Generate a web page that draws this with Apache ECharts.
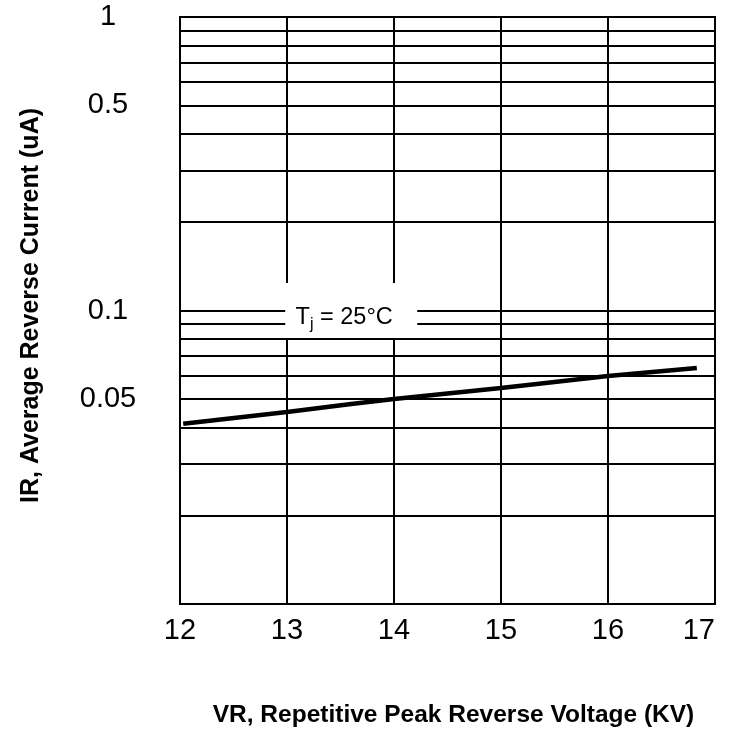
<!DOCTYPE html>
<html>
<head>
<meta charset="utf-8">
<script src="https://cdn.jsdelivr.net/npm/echarts@6/dist/echarts.min.js"></script>
<style>html,body{margin:0;padding:0;background:#fff;}#c{width:733px;height:731px;}</style>
</head>
<body>
<div id="c"></div>
<script>
// Data
const voltageKV = [12.03, 13, 13.6, 14, 15, 16, 16.83];
const currentUA = [0.0411, 0.0451, 0.048, 0.0499, 0.0544, 0.0598, 0.0637];
const yTickLabels = [1, 0.5, 0.1, 0.05];
const yGridValues = [0.9, 0.8, 0.7, 0.6, 0.5, 0.4, 0.3, 0.2, 0.1, 0.09, 0.08, 0.07, 0.06, 0.05, 0.04, 0.03, 0.02];
const xTicks = [12, 13, 14, 15, 16, 17];
const annotText = 'Tj = 25°C';
const annotAt = [13.6, 0.1];

const FONT = 'Liberation Sans, Arial, sans-serif';
const chart = echarts.init(document.getElementById('c'), null, {renderer: 'canvas'});
chart.setOption({
  animation: false,
  backgroundColor: '#fff',
  grid: {left: 180, right: 18, top: 17, bottom: 127, show: true, borderColor: '#000', borderWidth: 2,
    backgroundColor: 'transparent', containLabel: false, outerBoundsMode: 'none'},
  xAxis: {
    type: 'value', min: xTicks[0], max: xTicks[xTicks.length - 1], interval: 1,
    name: 'VR, Repetitive Peak Reverse Voltage (KV)', nameLocation: 'middle', nameGap: 99,
    nameTextStyle: {fontFamily: FONT, fontSize: 24.5, fontWeight: 'bold', color: '#000', padding: [0, 0, 0, 12]},
    axisLine: {show: false}, axisTick: {show: false},
    axisLabel: {fontFamily: FONT, fontSize: 29, color: '#000', margin: 12, alignMaxLabel: 'right',
      formatter: v => String(v)},
    splitLine: {show: true, lineStyle: {color: '#000', width: 2}}
  },
  yAxis: {
    type: 'log', logBase: 10, min: 0.01, max: 1,
    name: 'IR, Average Reverse Current (uA)', nameLocation: 'middle', nameGap: 136, nameRotate: 90,
    nameTextStyle: {fontFamily: FONT, fontSize: 25, fontWeight: 'bold', color: '#000', padding: [0, 0, 0, 10]},
    axisLine: {show: false}, axisTick: {show: false},
    axisLabel: {fontFamily: FONT, fontSize: 29, color: '#000', margin: 72, align: 'center',
      customValues: yTickLabels, formatter: v => String(v)},
    splitLine: {show: false}
  },
  series: [
    {
      type: 'line', z: 1, data: voltageKV.map((x, i) => [x, currentUA[i]]),
      symbol: 'none', lineStyle: {opacity: 0}, silent: true,
      markLine: {
        silent: true, z: 1, symbol: ['none', 'none'], label: {show: false},
        lineStyle: {color: '#000', width: 2, type: 'solid'},
        data: yGridValues.map(v => ({yAxis: v}))
      }
    },
    {
      type: 'line', z: 5, data: voltageKV.map((x, i) => [x, currentUA[i]]),
      symbol: 'none', lineStyle: {color: '#000', width: 4.5}, silent: true,
      markPoint: {
        z: 10, silent: true,
        symbol: 'rect', symbolSize: [132, 55],
        itemStyle: {color: '#fff'},
        label: {
          show: true, position: 'inside', offset: [-7, 7],
          formatter: '{t|T}{s|j}{t|' + annotText.slice(2) + '}',
          rich: {
            t: {fontFamily: FONT, fontSize: 23.5, color: '#000', lineHeight: 30},
            s: {fontFamily: FONT, fontSize: 16, color: '#000', lineHeight: 16, verticalAlign: 'bottom'}
          }
        },
        data: [{coord: annotAt}]
      }
    }
  ]
});
</script>
</body>
</html>
